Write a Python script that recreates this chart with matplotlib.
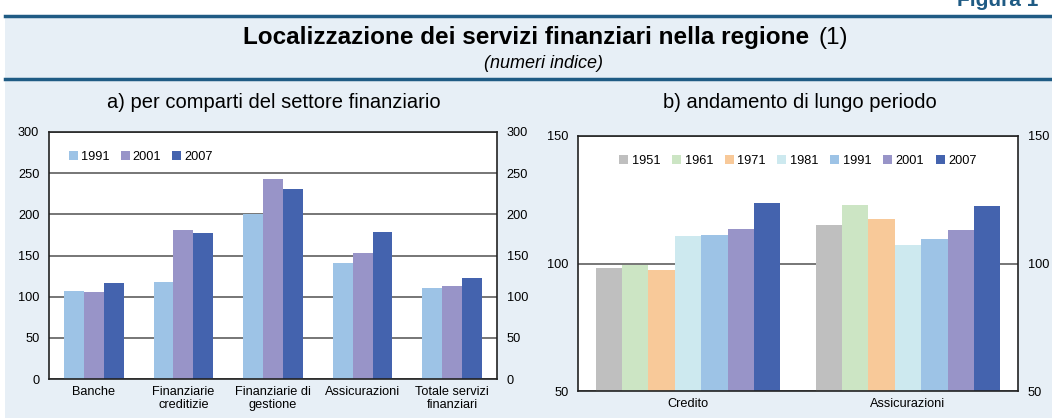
import matplotlib.pyplot as plt
import numpy as np

plt.rcParams['font.family'] = ['Liberation Sans', 'DejaVu Sans']

# a) per comparti del settore finanziario
comparti = ["Banche", "Finanziarie\ncreditizie", "Finanziarie di\ngestione",
            "Assicurazioni", "Totale servizi\nfinanziari"]
anni_a = ["1991", "2001", "2007"]
val_1991 = [107, 118, 200, 141, 110]
val_2001 = [106, 181, 243, 153, 113]
val_2007 = [117, 177, 231, 179, 123]

# b) andamento di lungo periodo
settori = ["Credito", "Assicurazioni"]
anni_b = ["1951", "1961", "1971", "1981", "1991", "2001", "2007"]
credito = [98.3, 99.5, 97.4, 110.9, 111.3, 113.6, 123.8]
assicurazioni = [115.2, 122.9, 117.5, 107.3, 109.7, 113.2, 122.6]

colori = {"1951": "#bfbfbf", "1961": "#cce5c4", "1971": "#f8c999",
          "1981": "#cde9ef", "1991": "#9dc3e6", "2001": "#9894c8",
          "2007": "#4463ae"}

W, H = 1052, 418
fig = plt.figure(figsize=(W / 100, H / 100), dpi=100)
fig.patch.set_facecolor("white")

bg = "#e7eff6"
blu = "#1f5b84"
fig.add_artist(plt.Rectangle((5 / W, 0), 1, 1 - 17 / H, transform=fig.transFigure,
                             facecolor=bg, edgecolor="none", zorder=-5))
for yy in (16, 79):
    fig.add_artist(plt.Line2D([5 / W, 1], [1 - yy / H] * 2, color=blu, lw=2.5,
                              transform=fig.transFigure, zorder=-4))

fig.text(957 / W, 1 - 6 / H, "Figura 1", ha="left", va="baseline", fontsize=15,
         fontweight="bold", color=blu)
fig.text(809 / W, 1 - 44 / H, "Localizzazione dei servizi finanziari nella regione",
         ha="right", va="baseline", fontsize=17.5, fontweight="bold")
fig.text(819 / W, 1 - 44 / H, "(1)", ha="left", va="baseline", fontsize=17.5)
fig.text(543 / W, 1 - 64 / H, "(numeri indice)", ha="center", va="center",
         fontsize=13, style="italic")
fig.text(274 / W, 1 - 103 / H, "a) per comparti del settore finanziario",
         ha="center", va="center", fontsize=14.5)
fig.text(800 / W, 1 - 103 / H, "b) andamento di lungo periodo",
         ha="center", va="center", fontsize=14.5)

fs = 9.2


def stile(ax, ticks):
    ax.set_facecolor("white")
    for s in ax.spines.values():
        s.set_color("#222222")
        s.set_linewidth(1.2)
    ax.set_yticks(ticks)
    ax.tick_params(axis="y", length=0, labelsize=fs, labelright=True, pad=7)
    ax.tick_params(axis="x", length=0, labelsize=fs, pad=5)
    ax.yaxis.grid(True, color="#6b6b6b", lw=1.3)
    ax.set_axisbelow(True)


# pannello a
ax1 = fig.add_axes([49 / W, 1 - 379 / H, 448 / W, 247 / H])
x = np.arange(len(comparti))
wa = 0.222
for i, (anno, vals) in enumerate(zip(anni_a, [val_1991, val_2001, val_2007])):
    ax1.bar(x + (i - 1) * wa, vals, wa, color=colori[anno], label=anno, zorder=2)
ax1.set_xlim(-0.5, len(comparti) - 0.5)
ax1.set_ylim(0, 300)
ax1.set_xticks(x)
ax1.set_xticklabels(comparti, linespacing=1.1)
stile(ax1, range(0, 301, 50))
ax1.legend(loc="upper left", bbox_to_anchor=(0.02, 0.97), ncol=3, frameon=False,
           fontsize=fs, handlelength=0.7, handleheight=0.7, handletextpad=0.2,
           columnspacing=0.9)

# pannello b
ax2 = fig.add_axes([578 / W, 1 - 391 / H, 440 / W, 255 / H])
x2 = np.arange(len(settori))
wb = 0.12
serie_b = np.array([credito, assicurazioni]).T
for i, anno in enumerate(anni_b):
    ax2.bar(x2 + (i - 3) * wb, serie_b[i], wb, color=colori[anno], label=anno, zorder=2)
ax2.set_xlim(-0.5, len(settori) - 0.5)
ax2.set_ylim(50, 150)
ax2.set_xticks(x2)
ax2.set_xticklabels(settori)
stile(ax2, [50, 100, 150])
ax2.legend(loc="upper center", bbox_to_anchor=(0.5, 0.97), ncol=7, frameon=False,
           fontsize=fs, handlelength=0.7, handleheight=0.7, handletextpad=0.3,
           columnspacing=0.9)

fig.savefig("out.png", dpi=100, facecolor=fig.get_facecolor())
